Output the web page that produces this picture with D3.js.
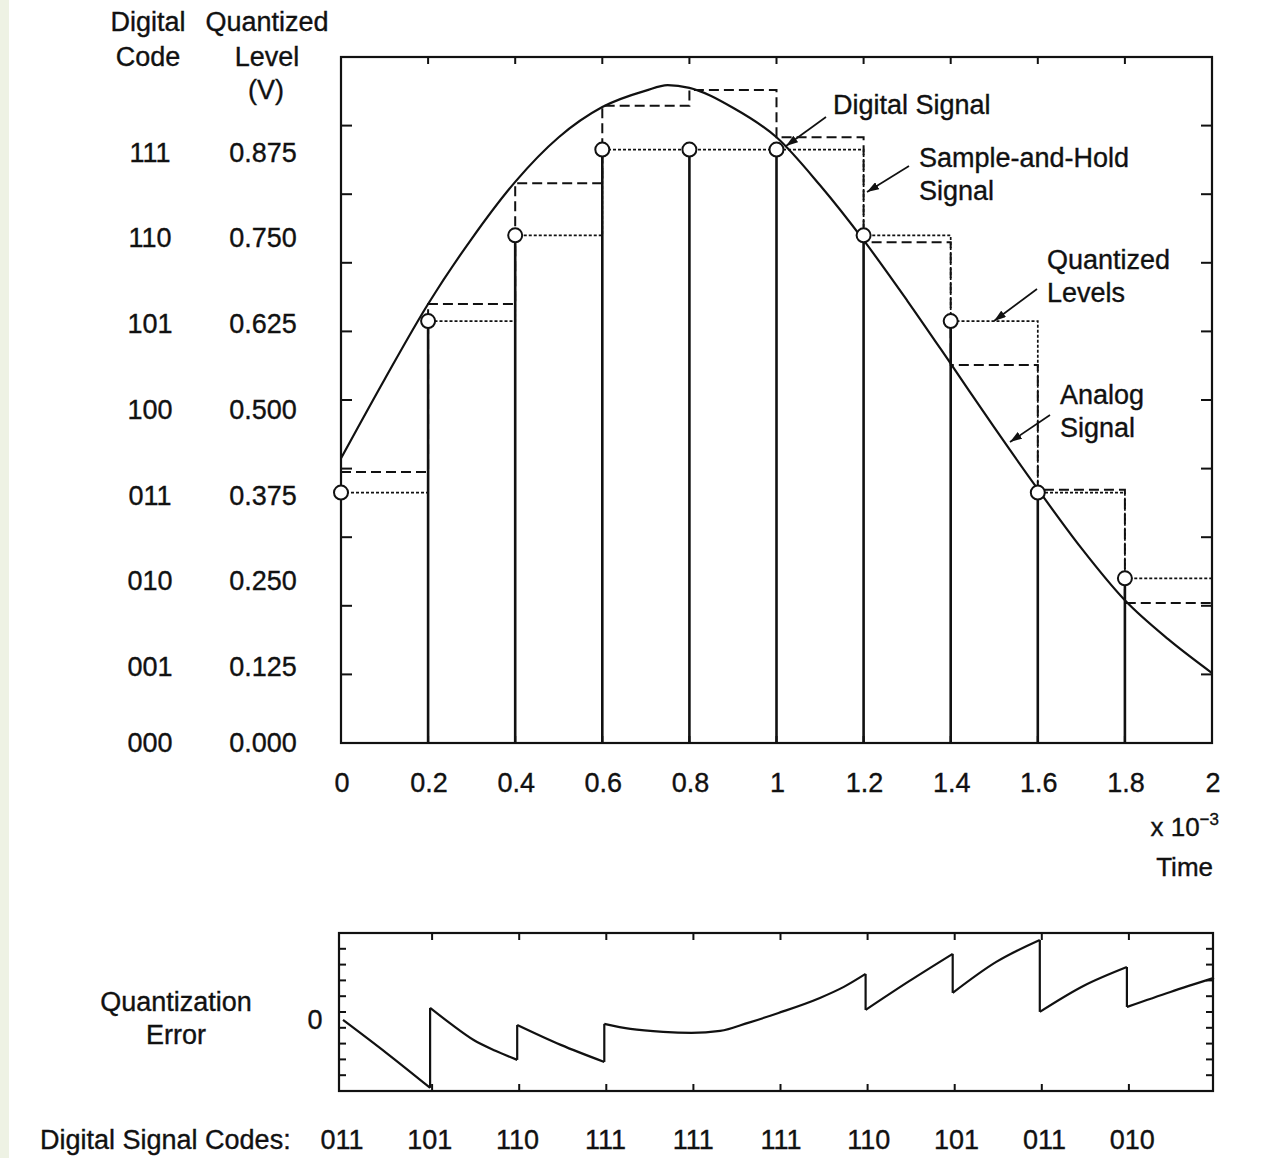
<!DOCTYPE html>
<html>
<head>
<meta charset="utf-8">
<script src="https://cdn.jsdelivr.net/npm/d3@7"></script>
<style>
  body { margin: 0; background: #ffffff; }
  text { font-family: "Liberation Sans", Arial, Helvetica, sans-serif; fill: #111; stroke: #111; stroke-width: 0.35px; }
</style>
</head>
<body>
<svg id="chart" width="1273" height="1158"></svg>
<script>
// ---------------- DATA ----------------
const sampleTimes = [0, 0.2, 0.4, 0.6, 0.8, 1.0, 1.2, 1.4, 1.6, 1.8];
const quantizedLevels = [0.375, 0.625, 0.75, 0.875, 0.875, 0.875, 0.75, 0.625, 0.375, 0.25];
const sampleHoldValues = [0.405, 0.650, 0.826, 0.939, 0.962, 0.893, 0.740, 0.561, 0.379, 0.214];
const digitalCodes = ["011", "101", "110", "111", "111", "111", "110", "101", "011", "010"];

const levelCodes = ["111", "110", "101", "100", "011", "010", "001", "000"];
const levelValues = [0.875, 0.750, 0.625, 0.500, 0.375, 0.250, 0.125, 0.000];
const levelLabels = ["0.875", "0.750", "0.625", "0.500", "0.375", "0.250", "0.125", "0.000"];

const xTickValues = [0, 0.2, 0.4, 0.6, 0.8, 1.0, 1.2, 1.4, 1.6, 1.8, 2.0];
const xTickLabels = ["0", "0.2", "0.4", "0.6", "0.8", "1", "1.2", "1.4", "1.6", "1.8", "2"];

const analogT = [0, 0.1, 0.2, 0.3, 0.4, 0.5, 0.6, 0.7, 0.75, 0.8, 0.9, 1.0, 1.1, 1.2, 1.3, 1.4, 1.5, 1.6, 1.7, 1.8, 1.9, 2.0];
const analogV = [0.425, 0.540, 0.650, 0.745, 0.828, 0.893, 0.937, 0.961, 0.969, 0.965, 0.936, 0.893, 0.823, 0.743, 0.655, 0.563, 0.470, 0.380, 0.294, 0.218, 0.161, 0.112];

// quantization error (arbitrary units, 0 = reference line); repeated t = jump
const errT = [0, 0.1, 0.2,
              0.2, 0.25, 0.3, 0.35, 0.4,
              0.4, 0.5, 0.6,
              0.6, 0.66, 0.735, 0.8, 0.866, 0.93, 1.0, 1.095, 1.15, 1.2,
              1.2, 1.3, 1.4,
              1.4, 1.5, 1.6,
              1.6, 1.7, 1.8,
              1.8, 1.9, 2.0];
const errV = [0.0, -0.21, -0.43,
              0.076, -0.03, -0.127, -0.195, -0.253,
              -0.032, -0.158, -0.266,
              -0.025, -0.057, -0.076, -0.082, -0.070, -0.019, 0.044, 0.139, 0.209, 0.291,
              0.063, 0.245, 0.418,
              0.171, 0.367, 0.506,
              0.051, 0.215, 0.335,
              0.082, 0.177, 0.266];

// ---------------- LAYOUT ----------------
const svg = d3.select("#chart");
const FS = 27;
const main = { left: 341, right: 1212, top: 57, bottom: 743 };
const err = { left: 339, right: 1213, top: 933, bottom: 1091 };
const yDomain = [0.01, 1.01];
const eDomain = [-0.45, 0.55];

const x = d3.scaleLinear().domain([0, 2]).range([main.left, main.right]);
const y = d3.scaleLinear().domain(yDomain).range([main.bottom, main.top]);
const xe = d3.scaleLinear().domain([0, 2]).range([343, 1214]);
const ye = d3.scaleLinear().domain(eDomain).range([err.bottom, err.top]);

// left pale strip
svg.append("rect").attr("x", 0).attr("y", 0).attr("width", 9).attr("height", 1158).attr("fill", "#eef2e4");

// arrow marker
svg.append("defs").append("marker")
  .attr("id", "arrow").attr("viewBox", "0 0 12 8")
  .attr("refX", 12).attr("refY", 4)
  .attr("markerWidth", 12).attr("markerHeight", 8)
  .attr("markerUnits", "userSpaceOnUse")
  .attr("orient", "auto")
  .append("path").attr("d", "M0,0 L12,4 L0,8 Z").attr("fill", "#111");

function label(sel, txt, xx, yy, anchor) {
  return sel.append("text").attr("x", xx).attr("y", yy)
    .attr("text-anchor", anchor || "middle").attr("dominant-baseline", "central")
    .attr("font-size", FS).text(txt);
}

// ---------------- MAIN PANEL ----------------
const g = svg.append("g");

g.append("rect")
  .attr("x", main.left).attr("y", main.top)
  .attr("width", main.right - main.left).attr("height", main.bottom - main.top)
  .attr("fill", "none").attr("stroke", "#111").attr("stroke-width", 2.2);

const yTicks = d3.range(1, 10).map(i => yDomain[0] + i * (yDomain[1] - yDomain[0]) / 10);
yTicks.forEach(v => {
  g.append("line").attr("x1", main.left).attr("x2", main.left + 11)
    .attr("y1", y(v)).attr("y2", y(v)).attr("stroke", "#111").attr("stroke-width", 2);
  g.append("line").attr("x1", main.right).attr("x2", main.right - 11)
    .attr("y1", y(v)).attr("y2", y(v)).attr("stroke", "#111").attr("stroke-width", 2);
});
xTickValues.forEach(t => {
  g.append("line").attr("x1", x(t)).attr("x2", x(t))
    .attr("y1", main.top).attr("y2", main.top + 7).attr("stroke", "#111").attr("stroke-width", 2);
  g.append("line").attr("x1", x(t)).attr("x2", x(t))
    .attr("y1", main.bottom).attr("y2", main.bottom - 7).attr("stroke", "#111").attr("stroke-width", 2);
});
xTickValues.forEach((t, i) => label(g, xTickLabels[i], x(t) + 1, 783));

// x 10^-3 and Time
const xl = g.append("text").attr("x", 1219).attr("y", 836).attr("text-anchor", "end").attr("font-size", FS - 1);
xl.append("tspan").text("x 10");
xl.append("tspan").attr("font-size", 17).attr("dy", -11).text("\u22123");
g.append("text").attr("x", 1213).attr("y", 876).attr("text-anchor", "end").attr("font-size", FS - 1).text("Time");

// left table headers
label(g, "Digital", 148, 22);
label(g, "Code", 148, 57);
label(g, "Quantized", 267, 22);
label(g, "Level", 267, 57);
label(g, "(V)", 266, 90);
levelValues.forEach((v, i) => {
  const yy = Math.min(y(v) + 3, main.bottom);
  label(g, levelCodes[i], 150, yy);
  label(g, levelLabels[i], 263, yy);
});

// analog signal
const analog = analogT.map((t, i) => [t, analogV[i]]);
g.append("path").datum(analog)
  .attr("d", d3.line().x(d => x(d[0])).y(d => y(d[1])).curve(d3.curveMonotoneX))
  .attr("fill", "none").attr("stroke", "#111").attr("stroke-width", 2.2);

// sample-and-hold (dashed staircase)
const sh = sampleTimes.map((t, i) => [t, sampleHoldValues[i]]).concat([[2, sampleHoldValues[sampleHoldValues.length - 1]]]);
g.append("path").datum(sh)
  .attr("d", d3.line().x(d => x(d[0])).y(d => y(d[1])).curve(d3.curveStepAfter))
  .attr("fill", "none").attr("stroke", "#111").attr("stroke-width", 2)
  .attr("stroke-dasharray", "10,5");

// quantized levels (dotted staircase)
const ql = sampleTimes.map((t, i) => [t, quantizedLevels[i]]).concat([[2, quantizedLevels[quantizedLevels.length - 1]]]);
g.append("path").datum(ql)
  .attr("d", d3.line().x(d => x(d[0])).y(d => y(d[1])).curve(d3.curveStepAfter))
  .attr("fill", "none").attr("stroke", "#111").attr("stroke-width", 1.7)
  .attr("stroke-dasharray", "3,2");

// digital signal stems
sampleTimes.forEach((t, i) => {
  if (t === 0) return;
  g.append("line").attr("x1", x(t)).attr("x2", x(t))
    .attr("y1", main.bottom).attr("y2", y(quantizedLevels[i]))
    .attr("stroke", "#111").attr("stroke-width", 2.6);
});
g.selectAll("circle.q").data(sampleTimes).enter().append("circle")
  .attr("cx", d => x(d)).attr("cy", (d, i) => y(quantizedLevels[i]))
  .attr("r", 7).attr("fill", "#fff").attr("stroke", "#111").attr("stroke-width", 2);

// annotations
const annots = [
  { lines: ["Digital Signal"], tx: 833, ty: 105, from: [826, 117], to: [786, 146] },
  { lines: ["Sample-and-Hold", "Signal"], tx: 919, ty: 158, from: [909, 166], to: [867, 192] },
  { lines: ["Quantized", "Levels"], tx: 1047, ty: 260, from: [1037, 289], to: [994, 321] },
  { lines: ["Analog", "Signal"], tx: 1060, ty: 395, from: [1050, 415], to: [1010, 442] }
];
annots.forEach(a => {
  a.lines.forEach((s, k) => label(g, s, a.tx, a.ty + k * 33, "start"));
  g.append("line").attr("x1", a.from[0]).attr("y1", a.from[1])
    .attr("x2", a.to[0]).attr("y2", a.to[1])
    .attr("stroke", "#111").attr("stroke-width", 1.7).attr("marker-end", "url(#arrow)");
});

// ---------------- ERROR PANEL ----------------
const ge = svg.append("g");
ge.append("rect")
  .attr("x", err.left).attr("y", err.top)
  .attr("width", err.right - err.left).attr("height", err.bottom - err.top)
  .attr("fill", "none").attr("stroke", "#111").attr("stroke-width", 2.2);

const eTicks = d3.range(1, 10).map(i => eDomain[0] + i * (eDomain[1] - eDomain[0]) / 10);
eTicks.forEach(v => {
  ge.append("line").attr("x1", err.left).attr("x2", err.left + 7)
    .attr("y1", ye(v)).attr("y2", ye(v)).attr("stroke", "#111").attr("stroke-width", 2);
  ge.append("line").attr("x1", err.right).attr("x2", err.right - 7)
    .attr("y1", ye(v)).attr("y2", ye(v)).attr("stroke", "#111").attr("stroke-width", 2);
});
sampleTimes.forEach(t => {
  if (t === 0) return;
  ge.append("line").attr("x1", xe(t) + 2).attr("x2", xe(t) + 2)
    .attr("y1", err.top).attr("y2", err.top + 7).attr("stroke", "#111").attr("stroke-width", 2);
  ge.append("line").attr("x1", xe(t) + 2).attr("x2", xe(t) + 2)
    .attr("y1", err.bottom).attr("y2", err.bottom - 7).attr("stroke", "#111").attr("stroke-width", 2);
});

const segs = [];
let cur = [];
errT.forEach((t, i) => {
  if (i > 0 && t === errT[i - 1]) { segs.push(cur); cur = []; }
  cur.push([t, errV[i]]);
});
segs.push(cur);
const eLine = d3.line().x(d => xe(d[0])).y(d => ye(d[1])).curve(d3.curveMonotoneX);
segs.forEach((s, k) => {
  ge.append("path").datum(s).attr("d", eLine)
    .attr("fill", "none").attr("stroke", "#111").attr("stroke-width", 2.2);
  if (k > 0) {
    const prev = segs[k - 1][segs[k - 1].length - 1];
    ge.append("line").attr("x1", xe(prev[0])).attr("x2", xe(s[0][0]))
      .attr("y1", ye(prev[1])).attr("y2", ye(s[0][1]))
      .attr("stroke", "#111").attr("stroke-width", 2.2);
  }
});

label(ge, "0", 315, ye(0));
label(ge, "Quantization", 176, 1002);
label(ge, "Error", 176, 1035);

// digital codes row
label(ge, "Digital Signal Codes:", 40, 1140, "start");
sampleTimes.forEach((t, i) => label(ge, digitalCodes[i], x(t) + 1 + i * 0.7, 1140));
</script>
</body>
</html>
